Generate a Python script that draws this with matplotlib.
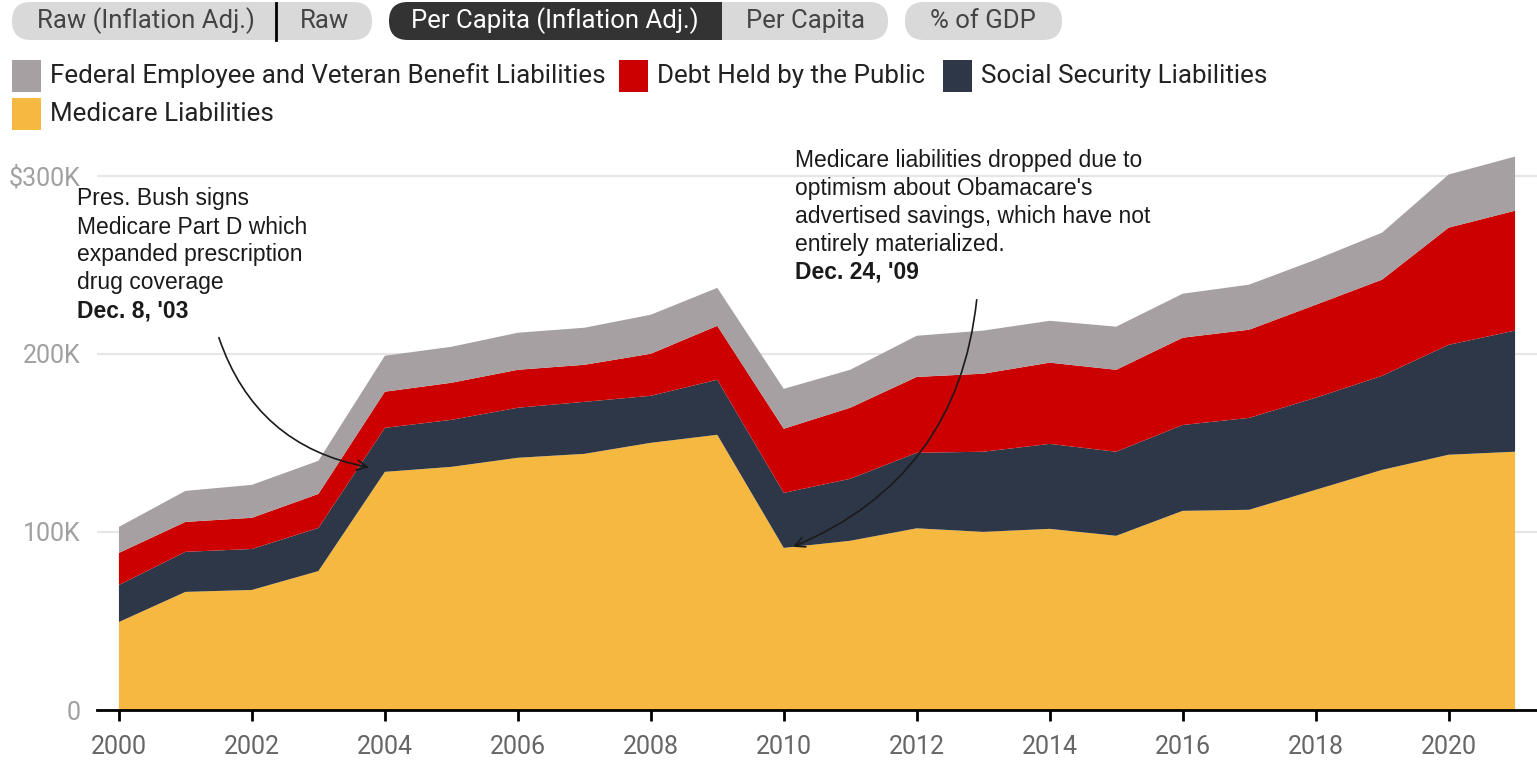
import matplotlib
matplotlib.use("Agg")
import matplotlib.pyplot as plt
import numpy as np
from matplotlib.patches import FancyBboxPatch, Rectangle
from matplotlib.transforms import IdentityTransform
from matplotlib.lines import Line2D

# per capita, inflation adjusted, thousands of dollars
years = list(range(2000, 2022))
medicare = [49.4, 66.3, 67.4, 78.0, 133.7, 136.5, 141.6, 143.8, 150.0, 154.5, 91.0,
            95.0, 102.0, 100.0, 101.7, 97.8, 111.8, 112.4, 123.6, 134.8, 143.3, 145.0]
social_security = [20.8, 22.5, 23.0, 24.2, 24.7, 26.4, 28.1, 29.2, 26.4, 30.9, 30.9,
                   34.8, 42.4, 45.0, 47.7, 47.2, 48.2, 51.6, 51.7, 52.8, 61.7, 68.0]
debt_public = [18.0, 16.8, 17.5, 19.1, 20.3, 20.8, 21.3, 20.8, 23.6, 30.3, 36.0,
               39.9, 42.6, 43.8, 45.6, 46.0, 49.0, 49.5, 52.2, 54.0, 65.8, 67.3]
fed_employee = [14.6, 17.4, 18.5, 18.6, 20.2, 20.2, 20.8, 20.8, 21.9, 21.3, 22.4,
                21.3, 23.1, 24.2, 23.5, 24.2, 24.7, 25.3, 25.3, 26.4, 29.8, 30.4]

labels = ["Medicare Liabilities", "Social Security Liabilities",
          "Debt Held by the Public", "Federal Employee and Veteran Benefit Liabilities"]
colors = ["#f5b841", "#2e3747", "#cc0000", "#a6a0a2"]

W, H = 1537, 767
fig = plt.figure(figsize=(W / 100, H / 100), dpi=100)
ax = fig.add_axes([97 / W, 57 / H, 1 - 97 / W, (710 - 140) / H])

ax.stackplot(years, medicare, social_security, debt_public, fed_employee,
             colors=colors, linewidth=0, zorder=2)

ax.set_xlim(1999.67, 2021.33)
ax.set_ylim(0, 320)
ax.set_yticks([0, 100, 200, 300])
ax.set_yticklabels(["0", "100K", "200K", "$300K"])
ax.set_xticks(years[::2])
ax.grid(axis="y", color="#e6e6e6", linewidth=1.5, zorder=0)
for s in ["left", "top", "right"]:
    ax.spines[s].set_visible(False)
ax.spines["bottom"].set_linewidth(2)
ax.spines["bottom"].set_zorder(3)
ax.tick_params(axis="y", length=0, pad=12, labelsize=18, labelcolor="#a0a0a0")
ax.tick_params(axis="x", length=8, width=2, pad=10, labelsize=18, labelcolor="#666666")
for t in ax.get_xticklabels() + ax.get_yticklabels():
    t.set_fontfamily("Roboto")

# annotations
ann_font = "Liberation Sans"
ann_size = 16.5
bush = ["Pres. Bush signs", "Medicare Part D which", "expanded prescription", "drug coverage"]
for i, line in enumerate(bush):
    fig.text(77 / W, 1 - (199 + 28 * i) / H, line, fontsize=ann_size, family=ann_font,
             color="#1a1a1a", va="center")
fig.text(77 / W, 1 - 311 / H, "Dec. 8, '03", fontsize=ann_size, family=ann_font,
         weight="bold", color="#1a1a1a", va="center")
obama = ["Medicare liabilities dropped due to", "optimism about Obamacare's",
         "advertised savings, which have not", "entirely materialized."]
for i, line in enumerate(obama):
    fig.text(795 / W, 1 - (160 + 28 * i) / H, line, fontsize=ann_size, family=ann_font,
             color="#1a1a1a", va="center")
fig.text(795 / W, 1 - 272 / H, "Dec. 24, '09", fontsize=ann_size, family=ann_font,
         weight="bold", color="#1a1a1a", va="center")

ax.annotate("", xy=(2003.8, 136), xytext=(218, H - 335), textcoords="figure pixels",
            arrowprops=dict(arrowstyle="->", color="#1a1a1a", lw=1.2,
                            connectionstyle="arc3,rad=0.3", mutation_scale=18),
            zorder=5)
ax.annotate("", xy=(2010.1, 91), xytext=(977, H - 297), textcoords="figure pixels",
            arrowprops=dict(arrowstyle="->", color="#1a1a1a", lw=1.2,
                            connectionstyle="arc3,rad=-0.3", mutation_scale=18),
            zorder=5)

# buttons at top
ident = IdentityTransform()


def pill(x0, x1, color):
    p = FancyBboxPatch((x0 + 19, H - 21), x1 - x0 - 38, 0,
                       boxstyle="round,pad=19,rounding_size=19",
                       facecolor=color, edgecolor="none", transform=ident)
    fig.add_artist(p)


pill(12, 372, "#d9d9d9")
fig.add_artist(Line2D([276, 276], [H - 40, H - 3], color="black", lw=2, transform=ident))
pill(389, 888, "#d9d9d9")
pill(389, 760, "#333333")
fig.add_artist(Rectangle((722, H - 40), 40, 38, facecolor="#d9d9d9", edgecolor="none",
                         transform=ident))
pill(905, 1062, "#d9d9d9")

btn_y = 1 - 21 / H
for x, txt, col in [(146, "Raw (Inflation Adj.)", "#444444"), (325, "Raw", "#444444"),
                    (555, "Per Capita (Inflation Adj.)", "white"),
                    (805, "Per Capita", "#444444"), (983, "% of GDP", "#444444")]:
    fig.text(x / W, btn_y, txt, fontsize=18.5, family="Roboto", color=col,
             ha="center", va="center")

# legend
leg = [(12, 76, colors[3], labels[3]), (619, 76, colors[2], labels[2]),
       (943, 76, colors[1], labels[1]), (12, 114, colors[0], labels[0])]
for x, yc, c, txt in leg:
    fig.add_artist(Rectangle((x, H - yc - 16), 29, 32, facecolor=c, edgecolor="none",
                             transform=ident))
    fig.text((x + 38) / W, 1 - yc / H, txt, fontsize=18.7, family="Roboto",
             color="#222222", va="center")

fig.savefig("out.png", dpi=100)
